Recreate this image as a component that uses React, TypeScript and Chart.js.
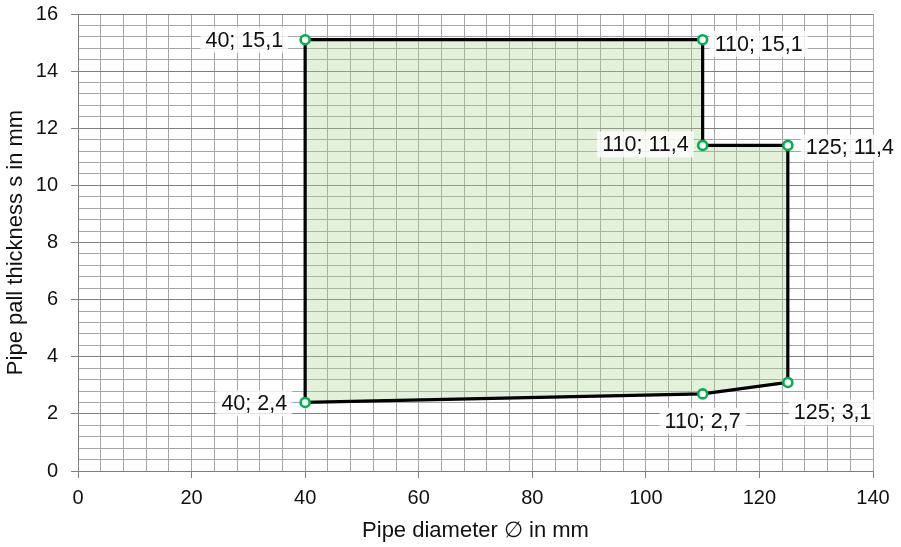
import React, { useEffect, useRef } from "react";
import { Chart, registerables } from "chart.js";

Chart.register(...registerables);

const xValues = [40, 40, 110, 110, 125, 125, 110, 40];
const yValues = [2.4, 15.1, 15.1, 11.4, 11.4, 3.1, 2.7, 2.4];
const pointLabels = ["40; 2,4", "40; 15,1", "110; 15,1", "110; 11,4", "125; 11,4", "125; 3,1", "110; 2,7", ""];
// label placement: [dx, dy, align]
const labelPlacement: [number, number, CanvasTextAlign][] = [
  [-18, 1, "right"],
  [-22, 0, "right"],
  [12, 4, "left"],
  [-14, -1, "right"],
  [18, 2, "left"],
  [6, 30, "left"],
  [0, 27, "center"],
  [0, 0, "left"],
];
const xMin = 0, xMax = 140, xStep = 4, xMajor = 20;
const yMin = 0, yMax = 16, yStep = 0.4, yMajor = 2;

const FONT = "'Liberation Sans', Arial, sans-serif";

const isMult = (v: number, m: number) => Math.abs(v / m - Math.round(v / m)) < 1e-6;

const labelPlugin = {
  id: "pointLabelsPlugin",
  afterDatasetsDraw(chart: any) {
    const ctx = chart.ctx;
    const meta = chart.getDatasetMeta(0);
    ctx.save();
    ctx.font = `21.5px ${FONT}`;
    ctx.textBaseline = "middle";
    meta.data.forEach((pt: any, i: number) => {
      const text = pointLabels[i];
      if (!text) return;
      const [dx, dy, align] = labelPlacement[i];
      const w = ctx.measureText(text).width;
      const x = pt.x + dx;
      const y = pt.y + dy;
      let left = x;
      if (align === "right") left = x - w;
      else if (align === "center") left = x - w / 2;
      ctx.fillStyle = "rgba(255,255,255,0.8)";
      ctx.fillRect(left - 5, y - 13, w + 10, 26);
      ctx.fillStyle = "#111111";
      ctx.textAlign = align;
      ctx.fillText(text, x, y + 1);
    });
    ctx.restore();
  },
};

export default function App() {
  const ref = useRef<HTMLCanvasElement>(null);
  useEffect(() => {
    if (!ref.current) return;
    const data = xValues.map((x, i) => ({ x, y: yValues[i] }));
    const chart = new Chart(ref.current, {
      type: "scatter",
      data: {
        datasets: [
          {
            data,
            showLine: true,
            fill: "shape",
            backgroundColor: "rgba(169,208,142,0.33)",
            borderColor: "#000000",
            borderWidth: 3.2,
            pointRadius: data.map((_, i) => (i === data.length - 1 ? 0 : 4.5)),
            pointBorderWidth: 2.6,
            pointBorderColor: "#00b050",
            pointBackgroundColor: "#ffffff",
            tension: 0,
          } as any,
        ],
      },
      options: {
        responsive: false,
        animation: false,
        layout: { padding: { top: 14, right: 28, left: 0, bottom: 0 } },
        plugins: { legend: { display: false }, tooltip: { enabled: false } },
        scales: {
          x: {
            type: "linear",
            min: xMin,
            max: xMax,
            afterFit: (s: any) => { s.height = 76; s.paddingRight = 0; s.paddingLeft = 0; },
            border: { display: true, color: "#808080", width: 1 },
            grid: {
              color: "#a6a6a6",
              lineWidth: 1,
              tickLength: 7,
              tickColor: (c: any) => (c.tick && isMult(c.tick.value, xMajor) ? "#808080" : "rgba(0,0,0,0)"),
            },
            ticks: {
              stepSize: xStep,
              autoSkip: false,
              maxRotation: 0,
              maxTicksLimit: 100,
              padding: 8,
              color: "#111111",
              font: { family: FONT, size: 20 },
              callback: (v: any) => (isMult(Number(v), xMajor) ? String(Math.round(Number(v))) : ""),
            },
            title: {
              display: true,
              text: "Pipe diameter ∅ in mm",
              color: "#111111",
              font: { family: FONT, size: 22 },
              padding: { top: 4, bottom: 3 },
            },
          },
          y: {
            type: "linear",
            min: yMin,
            max: yMax,
            afterFit: (s: any) => { s.width = 78; s.paddingTop = 0; s.paddingBottom = 0; },
            border: { display: true, color: "#808080", width: 1 },
            grid: {
              color: (c: any) => (c.tick && isMult(c.tick.value, yMajor) ? "#808080" : "#a6a6a6"),
              lineWidth: 1,
              tickLength: 7,
              tickColor: (c: any) => (c.tick && isMult(c.tick.value, yMajor) ? "#808080" : "rgba(0,0,0,0)"),
            },
            ticks: {
              stepSize: yStep,
              autoSkip: false,
              maxTicksLimit: 100,
              padding: 13,
              color: "#111111",
              font: { family: FONT, size: 20 },
              callback: (v: any) => (isMult(Number(v), yMajor) ? String(Math.round(Number(v))) : ""),
            },
            title: {
              display: true,
              text: "Pipe pall thickness s in mm",
              color: "#111111",
              font: { family: FONT, size: 22 },
              padding: { top: 3, bottom: 4 },
            },
          },
        },
      },
      plugins: [labelPlugin],
    });
    return () => chart.destroy();
  }, []);
  return (
    <div style={{ position: "fixed", left: 0, top: 0, width: 901, height: 547, background: "#fff" }}>
      <canvas ref={ref} width={901} height={547} style={{ width: 901, height: 547, display: "block" }} />
    </div>
  );
}
